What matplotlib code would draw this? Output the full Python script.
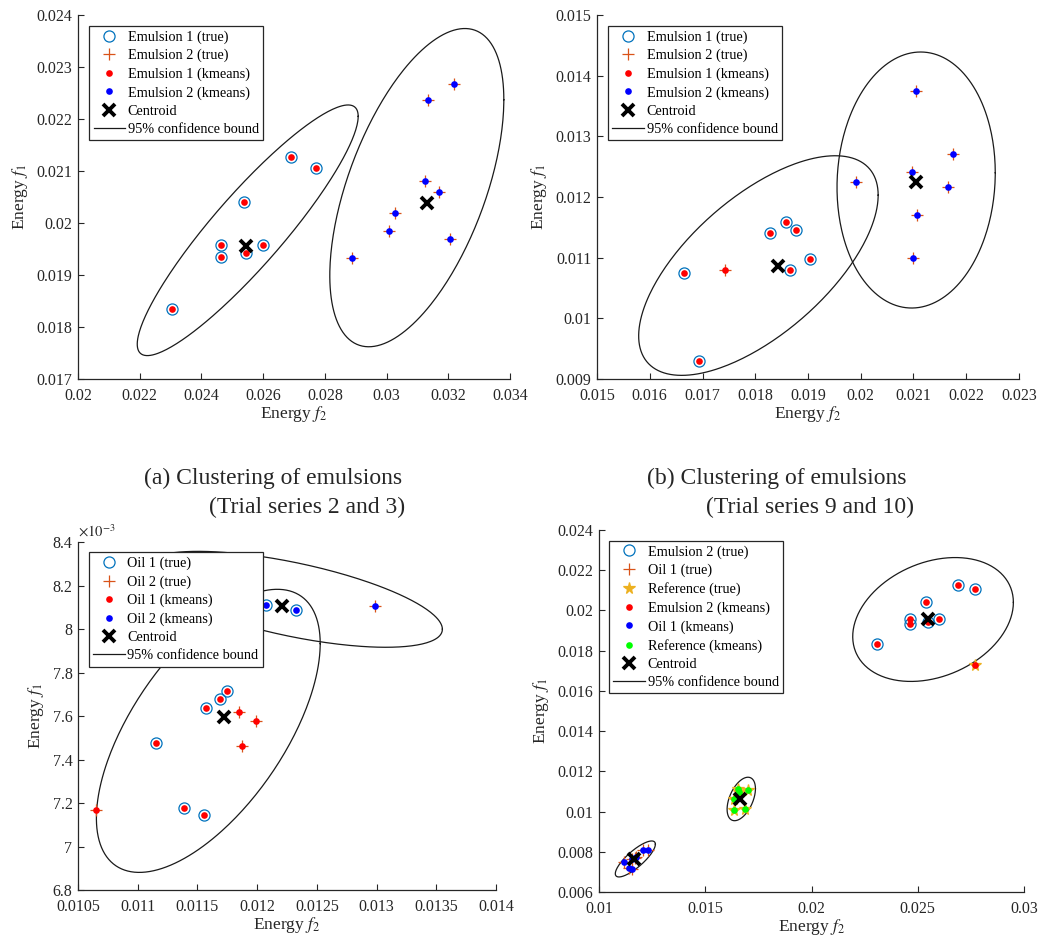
import numpy as np
import matplotlib
matplotlib.use("Agg")
import matplotlib.pyplot as plt
from matplotlib.lines import Line2D
from matplotlib.ticker import FixedLocator, FuncFormatter

plt.rcParams['font.family'] = ['Liberation Serif', 'DejaVu Serif']
plt.rcParams['mathtext.fontset'] = 'stix'

# ---------------- (a) top: emulsions, trial series 2 and 3 ----------------
a_f2 = [0.02306, 0.02464, 0.02464, 0.02538, 0.02546, 0.02599, 0.02689, 0.02770,
        0.02889, 0.03009, 0.03027, 0.03123, 0.03169, 0.03205, 0.03134, 0.03217]
a_f1 = [0.01835, 0.01957, 0.01935, 0.02040, 0.01942, 0.01957, 0.02127, 0.02105,
        0.01932, 0.01985, 0.02019, 0.02081, 0.02059, 0.01969, 0.02236, 0.02267]
a_true = [0, 0, 0, 0, 0, 0, 0, 0, 1, 1, 1, 1, 1, 1, 1, 1]
a_kmeans = [0, 0, 0, 0, 0, 0, 0, 0, 1, 1, 1, 1, 1, 1, 1, 1]
a_names = ['Emulsion 1', 'Emulsion 2']
a_cent_f2 = [0.02544, 0.03132]
a_cent_f1 = [0.01956, 0.02038]
# 95% bounds: centre, half-span in f2, half-span in f1, f1 offset at the widest f2 point
a_ell_f2 = [0.02550, 0.03098]
a_ell_f1 = [0.01986, 0.02068]
a_ell_hw = [0.00358, 0.00282]
a_ell_hh = [0.00241, 0.00306]
a_ell_tilt = [0.00219, 0.00169]

# ---------------- (b) top: emulsions, trial series 9 and 10 ----------------
b_f2 = [0.01665, 0.01694, 0.01828, 0.01859, 0.01878, 0.01865, 0.01904,
        0.01742,
        0.01991, 0.02097, 0.02104, 0.02174, 0.02165, 0.02106, 0.02099]
b_f1 = [0.01074, 0.00929, 0.01140, 0.01159, 0.01146, 0.01079, 0.01097,
        0.01080,
        0.01225, 0.01241, 0.01374, 0.01271, 0.01217, 0.01170, 0.01100]
b_true = [0, 0, 0, 0, 0, 0, 0, 1, 1, 1, 1, 1, 1, 1, 1]
b_kmeans = [0, 0, 0, 0, 0, 0, 0, 0, 1, 1, 1, 1, 1, 1, 1]
b_names = ['Emulsion 1', 'Emulsion 2']
b_cent_f2 = [0.01844, 0.02105]
b_cent_f1 = [0.01087, 0.01224]
b_ell_f2 = [0.01806, 0.02105]
b_ell_f1 = [0.01087, 0.01228]
b_ell_hw = [0.00227, 0.00150]
b_ell_hh = [0.00181, 0.00211]
b_ell_tilt = [0.00116, 0.00012]

# ---------------- (c) bottom left: oils ----------------
c_f2 = [0.011157, 0.011389, 0.011557, 0.011568, 0.011685, 0.011744,
        0.012077, 0.012328,
        0.010654, 0.011845, 0.011990, 0.011876,
        0.012990]
c_f1 = [0.0074766, 0.0071780, 0.0071443, 0.0076374, 0.0076802, 0.0077155,
        0.0081121, 0.0080876,
        0.0071672, 0.0076175, 0.0075760, 0.0074613,
        0.0081044]
c_true = [0, 0, 0, 0, 0, 0, 0, 0, 1, 1, 1, 1, 1]
c_kmeans = [0, 0, 0, 0, 0, 0, 1, 1, 0, 0, 0, 0, 1]
c_names = ['Oil 1', 'Oil 2']
c_cent_f2 = [0.011722, 0.012205]
c_cent_f1 = [0.007596, 0.008106]
c_ell_f2 = [0.011591, 0.012292]
c_ell_f1 = [0.0075317, 0.0081365]
c_ell_hw = [0.000937, 0.001259]
c_ell_hh = [0.0006508, 0.0002205]
c_ell_tilt = [0.0004013, -0.0001375]

# ---------------- (d) bottom right: emulsion, oil and reference ----------------
d_f2 = [0.02306, 0.02464, 0.02464, 0.02538, 0.02546, 0.02599, 0.02689, 0.02770,
        0.011157, 0.011389, 0.011557, 0.011568, 0.011685, 0.011744, 0.012077, 0.012328,
        0.016518, 0.016610, 0.017025, 0.016365, 0.016334, 0.016871,
        0.02770]
d_f1 = [0.01835, 0.01957, 0.01935, 0.02040, 0.01942, 0.01957, 0.02127, 0.02105,
        0.0074766, 0.0071780, 0.0071443, 0.0076374, 0.0076802, 0.0077155, 0.0081121, 0.0080876,
        0.011106, 0.010992, 0.011090, 0.010602, 0.010081, 0.010114,
        0.01730]
d_true = [0] * 8 + [1] * 8 + [2] * 6 + [2]
d_kmeans = [0] * 8 + [1] * 8 + [2] * 6 + [0]
d_names = ['Emulsion 2', 'Oil 1', 'Reference']
d_cent_f2 = [0.02548, 0.01163, 0.01664]
d_cent_f1 = [0.01955, 0.00764, 0.01060]
d_ell_f2 = [0.02572, 0.011710, 0.016695]
d_ell_f1 = [0.01955, 0.007643, 0.010626]
d_ell_hw = [0.00378, 0.000943, 0.000667]
d_ell_hh = [0.00308, 0.000895, 0.001081]
d_ell_tilt = [0.00085, 0.000731, 0.000512]

# ---------------- styling ----------------
TRUE_MARKERS = ['o', '+', '*']
TRUE_COLORS = ['#0072BD', '#D95319', '#EDB120']
KM_COLORS = ['#FF0000', '#0000FF', '#00FF00']
TRUE_SIZES = [8.0, 8.5, 8.5]

W, H = 1055, 947
fig = plt.figure(figsize=(W / 100, H / 100), dpi=100)


def axes_at(left, right, top, bottom):
    return fig.add_axes([left / W, 1 - bottom / H, (right - left) / W, (bottom - top) / H])


def ellipse_xy(cx, cy, hw, hh, tilt, n=300):
    t = np.linspace(0, 2 * np.pi, n)
    x = cx + hw * np.cos(t)
    y = cy + tilt * np.cos(t) + np.sqrt(hh ** 2 - tilt ** 2) * np.sin(t)
    return x, y


def draw_panel(ax, f2, f1, true_cls, km_cls, names, cent_f2, cent_f1,
               ell_f2, ell_f1, ell_hw, ell_hh, ell_tilt,
               xticks, yticks, yscale=1.0, leg_anchor=(0.025, 0.97)):
    f2 = np.asarray(f2)
    f1 = np.asarray(f1)
    true_cls = np.asarray(true_cls)
    km_cls = np.asarray(km_cls)
    handles = []
    for k, name in enumerate(names):
        m = true_cls == k
        mk = TRUE_MARKERS[k]
        style = dict(marker=mk, linestyle='none', markersize=TRUE_SIZES[k])
        if mk == 'o':
            style.update(markerfacecolor='none', markeredgecolor=TRUE_COLORS[k], markeredgewidth=0.9)
        else:
            style.update(color=TRUE_COLORS[k], markeredgewidth=0.9)
        ax.plot(f2[m], f1[m], zorder=3, **style)
        handles.append(Line2D([], [], label=f'{name} (true)', **style))
    for k, name in enumerate(names):
        m = km_cls == k
        style = dict(marker='o', linestyle='none', markersize=4.8,
                     color=KM_COLORS[k], markeredgewidth=0)
        ax.plot(f2[m], f1[m], zorder=4, **style)
        handles.append(Line2D([], [], label=f'{name} (kmeans)', **style))
    cstyle = dict(marker='x', linestyle='none', markersize=9, color='black', markeredgewidth=2.8)
    ax.plot(cent_f2, cent_f1, zorder=5, **cstyle)
    handles.append(Line2D([], [], label='Centroid', **cstyle))
    for cx, cy, hw, hh, tl in zip(ell_f2, ell_f1, ell_hw, ell_hh, ell_tilt):
        ex, ey = ellipse_xy(cx, cy, hw, hh, tl)
        ax.plot(ex, ey, color='#1a1a1a', linewidth=0.9, zorder=2)
    handles.append(Line2D([], [], color='#1a1a1a', linewidth=0.9, label='95% confidence bound'))

    ax.set_xlim(xticks[0], xticks[-1])
    ax.set_ylim(yticks[0], yticks[-1])
    ax.xaxis.set_major_locator(FixedLocator(xticks))
    ax.yaxis.set_major_locator(FixedLocator(yticks))
    ax.xaxis.set_major_formatter(FuncFormatter(lambda v, p: '%g' % round(v, 6)))
    ax.yaxis.set_major_formatter(FuncFormatter(lambda v, p: '%g' % round(v / yscale, 6)))
    for s in ('top', 'right'):
        ax.spines[s].set_visible(False)
    for s in ('left', 'bottom'):
        ax.spines[s].set_color('#262626')
        ax.spines[s].set_linewidth(0.9)
    ax.tick_params(direction='in', length=4, width=0.8, colors='#262626',
                   labelsize=11.5, labelcolor='#262626')
    ax.tick_params(axis='x', pad=6.5)
    ax.tick_params(axis='y', pad=4)
    ax.set_xlabel('Energy $f_2$', fontsize=12.5, color='#262626', labelpad=0)
    ax.set_ylabel('Energy $f_1$', fontsize=12.5, color='#262626', labelpad=5)

    leg = ax.legend(handles=handles, loc='upper left', bbox_to_anchor=leg_anchor,
                    borderaxespad=0, fontsize=10.3, frameon=True, fancybox=False,
                    edgecolor='#262626', framealpha=1, handlelength=2.2,
                    handletextpad=0.2, labelspacing=0.36, borderpad=0.3)
    leg.get_frame().set_linewidth(0.9)
    leg.set_zorder(10)
    return ax


ax1 = axes_at(78, 510, 15, 379)
draw_panel(ax1, a_f2, a_f1, a_true, a_kmeans, a_names, a_cent_f2, a_cent_f1,
           a_ell_f2, a_ell_f1, a_ell_hw, a_ell_hh, a_ell_tilt,
           np.arange(0.020, 0.0341, 0.002), np.arange(0.017, 0.02401, 0.001),
           leg_anchor=(0.026, 0.97))

ax2 = axes_at(597, 1019, 15, 379)
draw_panel(ax2, b_f2, b_f1, b_true, b_kmeans, b_names, b_cent_f2, b_cent_f1,
           b_ell_f2, b_ell_f1, b_ell_hw, b_ell_hh, b_ell_tilt,
           np.arange(0.015, 0.02301, 0.001), np.arange(0.009, 0.01501, 0.001),
           leg_anchor=(0.026, 0.97))

ax3 = axes_at(78, 496, 542, 890)
draw_panel(ax3, c_f2, c_f1, c_true, c_kmeans, c_names, c_cent_f2, c_cent_f1,
           c_ell_f2, c_ell_f1, c_ell_hw, c_ell_hh, c_ell_tilt,
           np.arange(0.0105, 0.01401, 0.0005), np.arange(0.0068, 0.00841, 0.0002),
           yscale=1e-3, leg_anchor=(0.026, 0.97))
ax3.text(0.0, 1.008, r'$\times10^{-3}$', transform=ax3.transAxes, ha='left', va='bottom',
         fontsize=10.5, color='#262626')

ax4 = axes_at(599, 1024, 530, 892)
draw_panel(ax4, d_f2, d_f1, d_true, d_kmeans, d_names, d_cent_f2, d_cent_f1,
           d_ell_f2, d_ell_f1, d_ell_hw, d_ell_hh, d_ell_tilt,
           np.arange(0.010, 0.03001, 0.005), np.arange(0.006, 0.02401, 0.002),
           leg_anchor=(0.024, 0.97))

# sub-figure captions
fig.text(273 / W, 1 - 478 / H, '(a) Clustering of emulsions', ha='center', va='center',
         fontsize=17, color='#262626')
fig.text(307 / W, 1 - 507 / H, '(Trial series 2 and 3)', ha='center', va='center',
         fontsize=17, color='#262626')
fig.text(777 / W, 1 - 478 / H, '(b) Clustering of emulsions', ha='center', va='center',
         fontsize=17, color='#262626')
fig.text(810 / W, 1 - 507 / H, '(Trial series 9 and 10)', ha='center', va='center',
         fontsize=17, color='#262626')

fig.savefig('out.png', dpi=100, facecolor='white')
